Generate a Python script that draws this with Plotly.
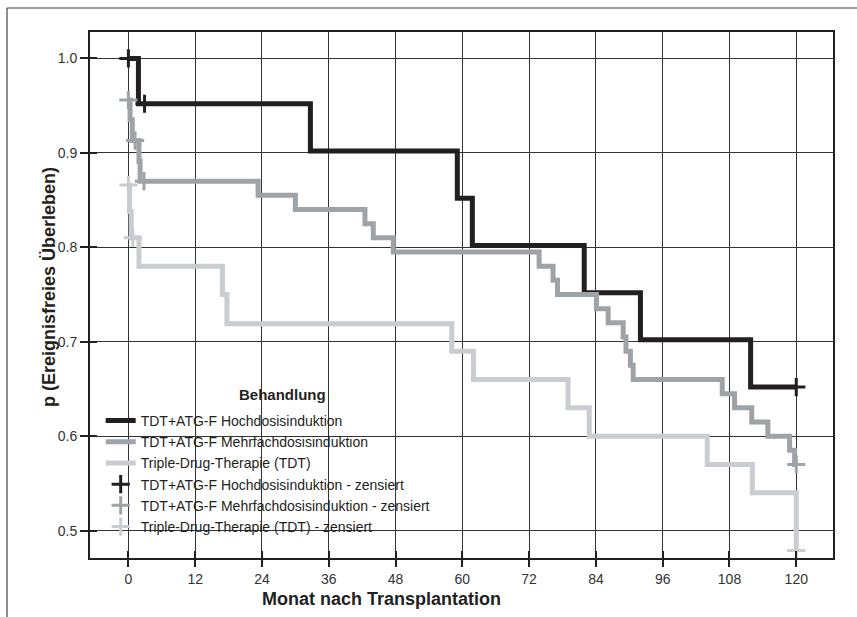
import plotly.graph_objects as go

# ---- data ----
x_ticks = [0, 12, 24, 36, 48, 60, 72, 84, 96, 108, 120]
x_tick_labels = ["0", "12", "24", "36", "48", "60", "72", "84", "96", "108", "120"]
y_ticks = [0.5, 0.6, 0.7, 0.8, 0.9, 1.0]
y_tick_labels = ["0.5", "0.6", "0.7", "0.8", "0.9", "1.0"]

series_names = ["TDT+ATG-F Hochdosisinduktion",
                "TDT+ATG-F Mehrfachdosisinduktion",
                "Triple-Drug-Therapie (TDT)"]

hoch_t = [0, 1.8, 32.7, 59.1, 61.8, 81.9, 92.0, 111.8, 120]
hoch_p = [1.0, 0.952, 0.902, 0.852, 0.802, 0.752, 0.702, 0.652, 0.652]
hoch_cens_t = [0, 2.9, 120]
hoch_cens_p = [1.0, 0.952, 0.652]

mehr_t = [0, 0.3, 0.7, 1.9, 2.1, 23.3, 30.0, 42.5, 44.0, 47.6, 73.8, 76.3, 77.1,
          84.1, 86.2, 88.9, 89.4, 90.2, 90.7, 106.7, 108.9, 112.0, 114.9, 118.8,
          119.7, 120]
mehr_p = [0.956, 0.935, 0.913, 0.891, 0.870, 0.855, 0.840, 0.825, 0.810, 0.795,
          0.780, 0.765, 0.750, 0.735, 0.720, 0.705, 0.690, 0.675, 0.660, 0.645,
          0.630, 0.615, 0.600, 0.585, 0.570, 0.570]
mehr_cens_t = [0, 1.2, 2.8, 120]
mehr_cens_p = [0.956, 0.913, 0.870, 0.570]

tdt_t = [0, 0.2, 0.5, 1.9, 16.9, 17.7, 58.1, 62.0, 79.0, 82.8, 104.0, 112.1, 120]
tdt_p = [0.866, 0.838, 0.810, 0.780, 0.750, 0.719, 0.690, 0.660, 0.630, 0.600,
         0.570, 0.540, 0.479]
tdt_cens_t = [0, 0.8, 120]
tdt_cens_p = [0.866, 0.810, 0.479]

colors = ["#231f20", "#9ea3a8", "#c9ccd1"]

FONT = "Liberation Sans, Arial, sans-serif"
INK = "#231f20"

fig = go.Figure()

curves = [(hoch_t, hoch_p), (mehr_t, mehr_p), (tdt_t, tdt_p)]
cens = [(hoch_cens_t, hoch_cens_p), (mehr_cens_t, mehr_cens_p), (tdt_cens_t, tdt_cens_p)]

for (t, p), name, c in zip(curves, series_names, colors):
    fig.add_trace(go.Scatter(x=t, y=p, mode="lines", name=name,
                             line=dict(color=c, width=5, shape="hv")))
for (t, p), name, c in zip(cens, series_names, colors):
    fig.add_trace(go.Scatter(x=t, y=p, mode="markers", name=name + " - zensiert",
                             marker=dict(symbol="cross-thin", size=13,
                                         line=dict(color=c, width=3), color=c),
                             cliponaxis=False))

# dummy trace to activate the overlay axes (inside tick marks)
fig.add_trace(go.Scatter(x=[None], y=[None], xaxis="x2", yaxis="y2",
                         showlegend=False, hoverinfo="skip"))

xr = [-6.9, 126.6]
yr = [0.471, 1.028]

fig.update_layout(
    width=857, height=617,
    margin=dict(l=90, r=24, t=32, b=59),
    paper_bgcolor="white", plot_bgcolor="white",
    font=dict(family=FONT, color=INK, size=14),
    showlegend=True,
    legend=dict(x=0.0144, y=0.291, xanchor="left", yanchor="top",
                bgcolor="rgba(0,0,0,0)", font=dict(size=14, family=FONT, color=INK),
                tracegroupgap=0, itemwidth=30),
    xaxis=dict(range=xr, tickmode="array", tickvals=x_ticks, ticktext=x_tick_labels,
               showgrid=True, gridcolor="#333333", gridwidth=1, zeroline=False,
               showline=True, mirror=True, linecolor=INK, linewidth=2,
               ticks="outside", ticklen=7, tickwidth=1.5, tickcolor=INK,
               tickfont=dict(size=14, color="#333333")),
    yaxis=dict(range=yr, tickmode="array", tickvals=y_ticks, ticktext=y_tick_labels,
               showgrid=True, gridcolor="#333333", gridwidth=1, zeroline=False,
               showline=True, mirror=True, linecolor=INK, linewidth=2,
               ticks="outside", ticklen=8, tickwidth=1.5, tickcolor=INK,
               tickfont=dict(size=14, color="#333333")),
    xaxis2=dict(range=xr, overlaying="x", anchor="y2", tickmode="array",
                tickvals=x_ticks, ticks="inside", ticklen=7, tickwidth=1.5,
                tickcolor=INK, showticklabels=False, showgrid=False,
                showline=False, zeroline=False),
    yaxis2=dict(range=yr, overlaying="y", anchor="x2", tickmode="array",
                tickvals=y_ticks, ticks="inside", ticklen=7, tickwidth=1.5,
                tickcolor=INK, showticklabels=False, showgrid=False,
                showline=False, zeroline=False),
)

# white box behind the legend, hiding the grid
fig.add_shape(type="rect", xref="paper", yref="paper", x0=0.002, x1=0.511,
              y0=0.003, y1=0.342, fillcolor="white", line=dict(width=0),
              layer="between")

# outer frame (top and left)
fig.add_shape(type="line", xref="paper", yref="paper", x0=-0.1117, x1=1.04,
              y0=1.0456, y1=1.0456, line=dict(color="#444444", width=1.2))
fig.add_shape(type="line", xref="paper", yref="paper", x0=-0.1117, x1=-0.1117,
              y0=1.0456, y1=-0.13, line=dict(color="#444444", width=1.2))

# titles
fig.add_annotation(text="<b>Monat nach Transplantation</b>", xref="paper", yref="paper",
                   x=0.392, y=-0.078, xanchor="center", yanchor="middle",
                   showarrow=False, font=dict(size=18, family=FONT, color=INK))
fig.add_annotation(text="<b>p (Ereignisfreies Überleben)</b>", xref="paper", yref="paper",
                   x=-0.0552, y=0.515, xanchor="center", yanchor="middle",
                   textangle=-90, showarrow=False,
                   font=dict(size=18, family=FONT, color=INK))
fig.add_annotation(text="<b>Behandlung</b>", xref="paper", yref="paper",
                   x=0.2585, y=0.31, xanchor="center", yanchor="middle",
                   showarrow=False, font=dict(size=15, family=FONT, color=INK))

fig.write_html("out.html", config={"displayModeBar": False},
               post_script="document.body.style.margin='0';document.body.style.padding='0';")
